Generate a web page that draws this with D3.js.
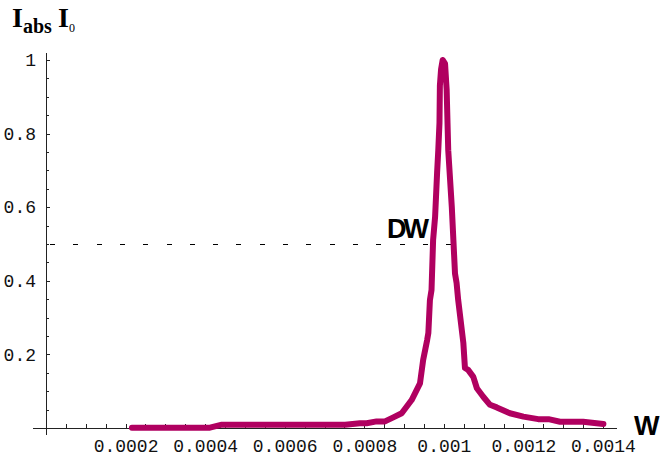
<!DOCTYPE html>
<html>
<head>
<meta charset="utf-8">
<script src="https://cdn.jsdelivr.net/npm/d3@7"></script>
<style>
  body { margin: 0; background: #fff; }
  svg { display: block; }
  .tick text { font-family: "Liberation Mono", monospace; font-size: 18px; fill: #111; }
  .tick line, .axis-line { shape-rendering: crispEdges; }
</style>
</head>
<body>
<div id="chart_div"></div>
<script>
// wavelength (W) and relative absorbed intensity
const wavelength = [
    0.000216, 0.000412, 0.000442, 0.000638, 0.000752, 0.000789, 0.000806, 0.000831,
    0.000852, 0.000873, 0.000894, 0.000919, 0.000940, 0.000948, 0.000958, 0.000961,
    0.000965, 0.000969, 0.000973, 0.000978, 0.000983, 0.000986, 0.000989, 0.000990,
    0.000993, 0.000997, 0.001003, 0.001007, 0.001011, 0.001020, 0.001028, 0.001032,
    0.001036, 0.001049, 0.001053, 0.001061, 0.001074, 0.001083, 0.001099, 0.001116,
    0.001133, 0.001166, 0.001200, 0.001237, 0.001263, 0.001292, 0.001350, 0.001401
];
const intensity = [
    0.001, 0.001, 0.009, 0.009, 0.009, 0.013, 0.013, 0.018,
    0.018, 0.029, 0.040, 0.076, 0.121, 0.185, 0.239, 0.258,
    0.348, 0.375, 0.511, 0.574, 0.693, 0.755, 0.829, 0.930,
    0.975, 1.000, 0.990, 0.920, 0.755, 0.600, 0.420, 0.394,
    0.348, 0.231, 0.163, 0.158, 0.139, 0.108, 0.085, 0.063,
    0.056, 0.040, 0.031, 0.024, 0.024, 0.017, 0.017, 0.011
];

const xTickValues = [0.0002, 0.0004, 0.0006, 0.0008, 0.001, 0.0012, 0.0014];
const xTickLabels = ["0.0002", "0.0004", "0.0006", "0.0008", "0.001", "0.0012", "0.0014"];
const yTickValues = [0.2, 0.4, 0.6, 0.8, 1];
const yTickLabels = ["0.2", "0.4", "0.6", "0.8", "1"];

const halfMax = 0.5;      // DW level
const halfMaxEnd = 0.00102;

const width = 660;
const height = 457;

const x = d3.scaleLinear().domain([0, 0.0014]).range([46, 603]);
const y = d3.scaleLinear().domain([0, 1]).range([428, 60]);

const svg = d3.select("#chart_div")
    .append("svg")
    .attr("width", width)
    .attr("height", height);

// axis lines
svg.append("line")
    .attr("class", "axis-line")
    .attr("x1", 33).attr("x2", 617)
    .attr("y1", y(0)).attr("y2", y(0))
    .attr("stroke", "#222");
svg.append("line")
    .attr("class", "axis-line")
    .attr("x1", x(0)).attr("x2", x(0))
    .attr("y1", 53).attr("y2", 435)
    .attr("stroke", "#222");

// small ticks, pointing into the plot
const xMinor = d3.range(1, 29).map(i => i * 0.00005);
const yMinor = d3.range(1, 21).map(i => i * 0.05);

svg.append("g")
    .attr("transform", `translate(0,${y(0)})`)
    .call(d3.axisTop(x).tickValues(xMinor).tickSize(4).tickFormat(""))
    .call(g => g.select(".domain").remove())
    .call(g => g.selectAll("line").attr("stroke", "#222"));

svg.append("g")
    .attr("transform", `translate(${x(0)},0)`)
    .call(d3.axisRight(y).tickValues(yMinor).tickSize(3).tickFormat(""))
    .call(g => g.select(".domain").remove())
    .call(g => g.selectAll("line").attr("stroke", "#222"));

svg.append("g")
    .attr("transform", `translate(${x(0)},0)`)
    .call(d3.axisRight(y).tickValues(yTickValues).tickSize(4).tickFormat(""))
    .call(g => g.select(".domain").remove())
    .call(g => g.selectAll("line").attr("stroke", "#222"));

// tick labels
svg.append("g")
    .attr("transform", `translate(0,${y(0)})`)
    .call(d3.axisBottom(x).tickValues(xTickValues).tickSize(0).tickPadding(11)
        .tickFormat((d, i) => xTickLabels[i]))
    .call(g => g.select(".domain").remove());

svg.append("g")
    .attr("transform", `translate(${x(0)},0)`)
    .call(d3.axisLeft(y).tickValues(yTickValues).tickSize(0).tickPadding(10)
        .tickFormat((d, i) => yTickLabels[i]))
    .call(g => g.select(".domain").remove());

// half maximum line
svg.append("line")
    .attr("class", "axis-line")
    .attr("x1", x(0) + 4).attr("x2", x(halfMaxEnd))
    .attr("y1", y(halfMax)).attr("y2", y(halfMax))
    .attr("stroke", "#000")
    .attr("stroke-dasharray", "5,18.3");

// curve
const line = d3.line()
    .x((d, i) => x(wavelength[i]))
    .y(d => y(d));

svg.append("path")
    .datum(intensity)
    .attr("d", line)
    .attr("fill", "none")
    .attr("stroke", "#b00060")
    .attr("stroke-width", 6)
    .attr("stroke-linejoin", "round")
    .attr("stroke-linecap", "round");

// labels
svg.append("text")
    .attr("x", 387).attr("y", 238)
    .attr("font-family", "Liberation Sans, Arial, sans-serif")
    .attr("font-weight", "bold")
    .attr("font-size", 27)
    .attr("letter-spacing", -3)
    .text("DW");

svg.append("text")
    .attr("x", 634).attr("y", 435)
    .attr("font-family", "Liberation Sans, Arial, sans-serif")
    .attr("font-weight", "bold")
    .attr("font-size", 27)
    .text("W");

const title = svg.append("text")
    .attr("x", 12).attr("y", 27)
    .attr("font-family", "Liberation Serif, Times New Roman, serif")
    .attr("font-weight", "bold");
title.append("tspan").attr("font-size", 28).text("I");
title.append("tspan").attr("font-size", 20).attr("y", 33).text("abs");
title.append("tspan").attr("font-size", 28).attr("x", 58).attr("y", 27).text("I");
title.append("tspan").attr("font-size", 12).attr("font-weight", "normal").attr("y", 32).text("0");
</script>
</body>
</html>
